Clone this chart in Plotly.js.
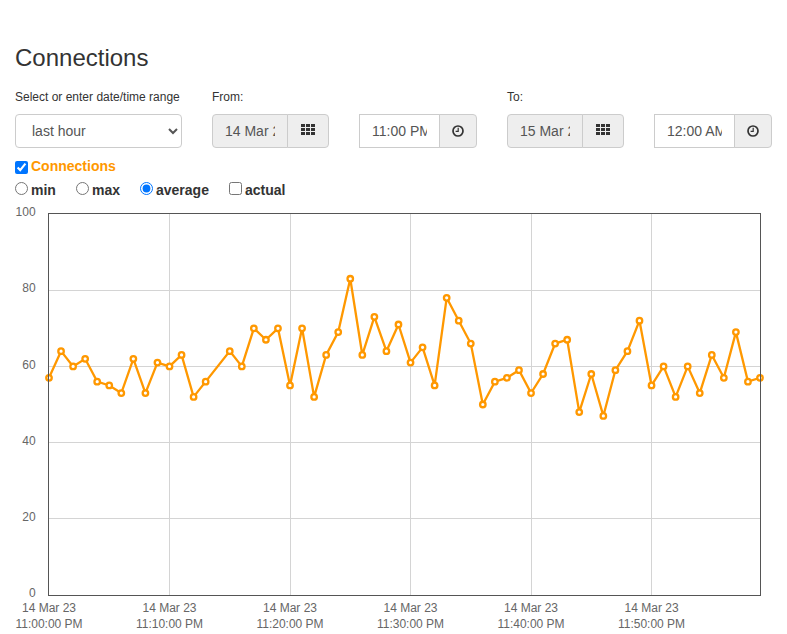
<!DOCTYPE html>
<html><head><meta charset="utf-8">
<script src="https://cdn.plot.ly/plotly-3.0.0.min.js"></script>
<style>
html,body{margin:0;padding:0;background:#fff;width:787px;height:634px;overflow:hidden;font-family:"Liberation Sans",Arial,sans-serif;color:#333;}
h1{position:absolute;left:15px;top:44px;margin:0;font-size:24px;font-weight:400;line-height:28px;color:#333;}
label.top{position:absolute;top:90px;font-size:12px;line-height:14px;color:#333;}
select,input.fc{position:absolute;top:114px;height:34px;box-sizing:border-box;font:14px "Liberation Sans",Arial,sans-serif;color:#555;border:1px solid #ccc;background:#fff;padding:6px 12px;margin:0;outline:none;}
select{left:15px;width:167px;border-radius:4px;}
input.dis{background:#eee;border-radius:4px 0 0 4px;opacity:1;}
input.tm{border-radius:0;}
.btn{position:absolute;top:114px;height:34px;box-sizing:border-box;border:1px solid #ccc;background:#eee;border-radius:0 4px 4px 0;display:flex;align-items:center;justify-content:center;}
input.ck{position:absolute;margin:0;width:13px;height:13px;}
.opt{position:absolute;font-size:14px;font-weight:700;line-height:16px;color:#333;}
#chart{position:absolute;left:0;top:0;width:787px;height:634px;}
</style></head><body>
<div id="chart"></div>
<h1>Connections</h1>
<label class="top" style="left:15px">Select or enter date/time range</label>
<label class="top" style="left:212px">From:</label>
<label class="top" style="left:507px">To:</label>
<select><option>last hour</option></select>
<input class="fc dis" disabled value="14 Mar 23" style="left:212px;width:76px">
<div class="btn" style="left:287px;width:42px"><svg width="14" height="12" viewBox="0 0 14 12" style="margin-top:-3px"><g fill="#333"><rect x="0" y="0" width="4" height="3"/><rect x="5" y="0" width="4" height="3"/><rect x="10" y="0" width="4" height="3"/><rect x="0" y="4" width="4" height="3"/><rect x="5" y="4" width="4" height="3"/><rect x="10" y="4" width="4" height="3"/><rect x="0" y="8" width="4" height="3"/><rect x="5" y="8" width="4" height="3"/><rect x="10" y="8" width="4" height="3"/></g></svg></div>
<input class="fc tm" value="11:00 PM" style="left:359px;width:81px">
<div class="btn" style="left:439px;width:38px"><svg width="12" height="12" viewBox="0 0 12 12"><circle cx="6" cy="6" r="5" fill="none" stroke="#333" stroke-width="1.7"/><path d="M6.2 2.8V6.3H3.6" fill="none" stroke="#333" stroke-width="1.2"/></svg></div>
<input class="fc dis" disabled value="15 Mar 23" style="left:507px;width:76px">
<div class="btn" style="left:582px;width:42px"><svg width="14" height="12" viewBox="0 0 14 12" style="margin-top:-3px"><g fill="#333"><rect x="0" y="0" width="4" height="3"/><rect x="5" y="0" width="4" height="3"/><rect x="10" y="0" width="4" height="3"/><rect x="0" y="4" width="4" height="3"/><rect x="5" y="4" width="4" height="3"/><rect x="10" y="4" width="4" height="3"/><rect x="0" y="8" width="4" height="3"/><rect x="5" y="8" width="4" height="3"/><rect x="10" y="8" width="4" height="3"/></g></svg></div>
<input class="fc tm" value="12:00 AM" style="left:654px;width:81px">
<div class="btn" style="left:734px;width:38px"><svg width="12" height="12" viewBox="0 0 12 12"><circle cx="6" cy="6" r="5" fill="none" stroke="#333" stroke-width="1.7"/><path d="M6.2 2.8V6.3H3.6" fill="none" stroke="#333" stroke-width="1.2"/></svg></div>
<input class="ck" type="checkbox" checked style="left:15px;top:161px">
<span class="opt" style="left:31px;top:158px;color:#ff9800">Connections</span>
<input class="ck" type="radio" name="r" style="left:15px;top:182px"><span class="opt" style="left:31px;top:182px">min</span>
<input class="ck" type="radio" name="r" style="left:76px;top:182px"><span class="opt" style="left:92px;top:182px">max</span>
<input class="ck" type="radio" name="r" checked style="left:140px;top:182px"><span class="opt" style="left:156px;top:182px">average</span>
<input class="ck" type="checkbox" style="left:229px;top:182px"><span class="opt" style="left:245px;top:182px">actual</span>
<script>
var seriesName = "Connections";
var minutes = [0,1,2,3,4,5,6,7,8,9,10,11,12,13,15,16,17,18,19,20,21,22,23,24,25,26,27,28,29,30,31,32,33,34,35,36,37,38,39,40,41,42,43,44,45,46,47,48,49,50,51,52,53,54,55,56,57,58,59];
var values = [57,64,60,62,56,55,53,62,53,61,60,63,52,56,64,60,70,67,70,55,70,52,63,69,83,63,73,64,71,61,65,55,78,72,66,50,56,57,59,53,58,66,67,48,58,47,59,64,72,55,60,52,60,53,63,57,69,56,57];
var xTickVals = [0,10,20,30,40,50];
var xTickText = ["14 Mar 23<br>11:00:00 PM","14 Mar 23<br>11:10:00 PM","14 Mar 23<br>11:20:00 PM","14 Mar 23<br>11:30:00 PM","14 Mar 23<br>11:40:00 PM","14 Mar 23<br>11:50:00 PM"];
var yTickVals = [0,20,40,60,80,100];
var font = {family:'"Liberation Sans",Arial,sans-serif',size:12,color:"#666"};
Plotly.newPlot("chart",[{
  type:"scatter",mode:"lines+markers",name:seriesName,x:minutes,y:values,cliponaxis:false,
  line:{color:"#ff9800",width:2.3},
  marker:{color:"#fff",size:5.5,line:{color:"#ff9800",width:2.3}},
  hoverinfo:"skip"
}],{
  width:787,height:634,autosize:false,showlegend:false,
  paper_bgcolor:"rgba(0,0,0,0)",plot_bgcolor:"rgba(0,0,0,0)",
  margin:{l:48.5,r:26.5,t:213.5,b:39,pad:0},
  font:font,
  xaxis:{range:[0,59],tickmode:"array",tickvals:xTickVals,ticktext:xTickText,showgrid:true,gridcolor:"#d4d4d4",gridwidth:1,zeroline:false,showline:true,mirror:true,linecolor:"#555",linewidth:1,ticks:"",tickfont:font,fixedrange:true,tickangle:0,ticklabelstandoff:2},
  yaxis:{range:[0,100],tickmode:"array",tickvals:yTickVals,showgrid:true,gridcolor:"#d4d4d4",gridwidth:1,zeroline:false,showline:true,mirror:true,linecolor:"#555",linewidth:1,ticks:"",tickfont:font,fixedrange:true,ticklabelstandoff:10,ticklabelshift:-2}
},{displayModeBar:false,staticPlot:true});
</script>
</body></html>
